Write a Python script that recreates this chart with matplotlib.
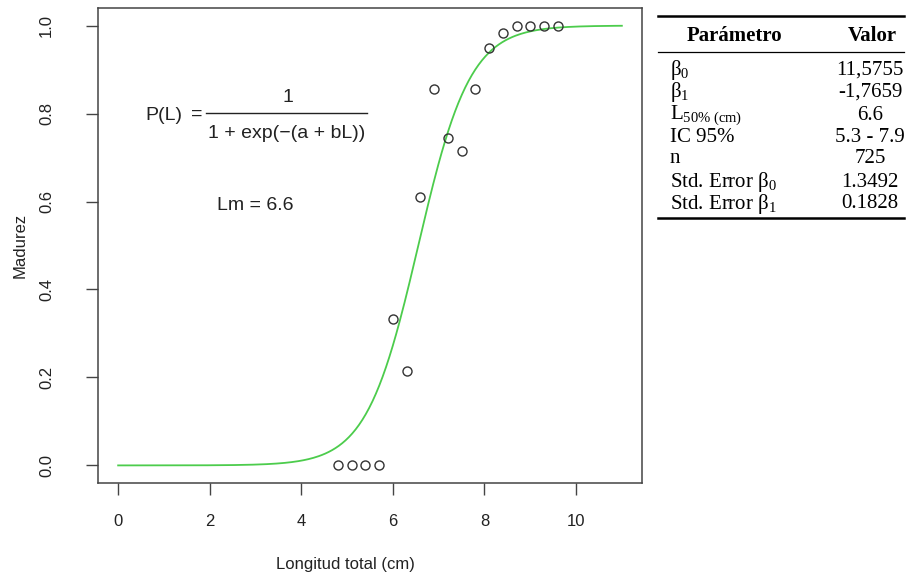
import numpy as np
import matplotlib
matplotlib.use("Agg")
import matplotlib.pyplot as plt
from matplotlib.lines import Line2D

plt.rcParams['font.family'] = ['Liberation Sans', 'DejaVu Sans']
plt.rcParams['mathtext.fontset'] = 'custom'
plt.rcParams['mathtext.rm'] = 'Liberation Serif'
plt.rcParams['mathtext.it'] = 'Liberation Serif:italic'
plt.rcParams['mathtext.bf'] = 'Liberation Serif:bold'

# ---- data ----
longitud = [4.8, 5.1, 5.4, 5.7, 6.0, 6.3, 6.6, 6.9, 7.2, 7.5, 7.8, 8.1, 8.4, 8.7, 9.0, 9.3, 9.6]
madurez = [0.0, 0.0, 0.0, 0.0, 0.333, 0.214, 0.611, 0.855, 0.744, 0.714, 0.855, 0.950, 0.983, 1.0, 1.0, 1.0, 1.0]
beta0 = 11.5755
beta1 = -1.7659
x_ticks = [0, 2, 4, 6, 8, 10]
y_ticks = [0.0, 0.2, 0.4, 0.6, 0.8, 1.0]
table_params = [r'$\mathrm{β}_{0}$', r'$\mathrm{β}_{1}$', r'$\mathrm{L}_{\mathrm{50\%\ (cm)}}$', 'IC 95%', 'n',
                r'Std. Error $\mathrm{β}_{0}$', r'Std. Error $\mathrm{β}_{1}$']
table_values = ['11,5755', '-1,7659', '6.6', '5.3 - 7.9', '725', '1.3492', '0.1828']

W, H = 915, 580
fig = plt.figure(figsize=(W / 100, H / 100), dpi=100)
ax = fig.add_axes([98 / W, 1 - 483 / H, (642 - 98) / W, (483 - 8) / H])

axc = '#444444'
txtc = '#222222'

Lc = np.linspace(0, 11, 300)
Pc = 1 / (1 + np.exp(beta0 + beta1 * Lc))
ax.plot(Lc, Pc, color='#4ccc4c', lw=1.3, zorder=2)
ax.plot(longitud, madurez, 'o', mfc='none', mec='#333333', ms=6.5, mew=1.0, zorder=3)

ax.set_xlim(-0.44, 11.44)
ax.set_ylim(-0.04, 1.04)
ax.set_xticks(x_ticks)
ax.set_xticklabels([str(v) for v in x_ticks])
ax.set_yticks(y_ticks)
ax.set_yticklabels([f'{v:.1f}' for v in y_ticks], rotation=90, va='center')
for s in ax.spines.values():
    s.set_color(axc)
    s.set_linewidth(1.1)
ax.tick_params(direction='out', length=8.5, width=1.0, color=axc, labelsize=12,
               labelcolor=txtc)
ax.tick_params(axis='x', pad=14)
ax.tick_params(axis='y', pad=23)
fig.text(345 / W, 1 - 565 / H, 'Longitud total (cm)', fontsize=12, color=txtc, ha='center', va='center')
fig.text(20 / W, 1 - 245 / H, 'Madurez', fontsize=12, color=txtc, ha='center', va='center', rotation=90)

# formula
fs = 14
fig.text(145 / W, 1 - 115 / H, 'P(L)', fontsize=fs, color=txtc, ha='left', va='center')
fig.text(197 / W, 1 - 114 / H, '=', fontsize=fs, color=txtc, ha='center', va='center')
fig.text(288 / W, 1 - 97 / H, '1', fontsize=fs, color=txtc, ha='center', va='center')
fig.text(287 / W, 1 - 133 / H, '1 + exp(\u2212(a + bL))', fontsize=fs, color=txtc, ha='center', va='center')
fig.add_artist(Line2D([206 / W, 367 / W], [1 - 113 / H, 1 - 113 / H], color=txtc, lw=1.0,
                      transform=fig.transFigure))
fig.text(255 / W, 1 - 205 / H, 'Lm = 6.6', fontsize=fs, color=txtc, ha='center', va='center')

# table
tfs = 15
tx0, tx1 = 658 / W, 904 / W
fig.add_artist(Line2D([tx0, tx1], [1 - 16 / H] * 2, color='black', lw=1.8, transform=fig.transFigure))
fig.add_artist(Line2D([tx0, tx1], [1 - 52 / H] * 2, color='black', lw=0.9, transform=fig.transFigure))
fig.add_artist(Line2D([tx0, tx1], [1 - 218 / H] * 2, color='black', lw=1.8, transform=fig.transFigure))
fig.text(734 / W, 1 - 36 / H, 'Parámetro', fontsize=tfs, family='Liberation Serif', weight='bold',
         ha='center', va='center', color='black')
fig.text(872 / W, 1 - 36 / H, 'Valor', fontsize=tfs, family='Liberation Serif', weight='bold',
         ha='center', va='center', color='black')
row_y = [70, 92, 115, 137, 159, 182, 204]
for p, v, y in zip(table_params, table_values, row_y):
    fig.text(670 / W, 1 - y / H, p, fontsize=tfs, family='Liberation Serif', ha='left', va='center',
             color='black')
    fig.text(870 / W, 1 - y / H, v, fontsize=tfs, family='Liberation Serif', ha='center', va='center',
             color='black')

fig.savefig('out.png', dpi=100, facecolor='white')
